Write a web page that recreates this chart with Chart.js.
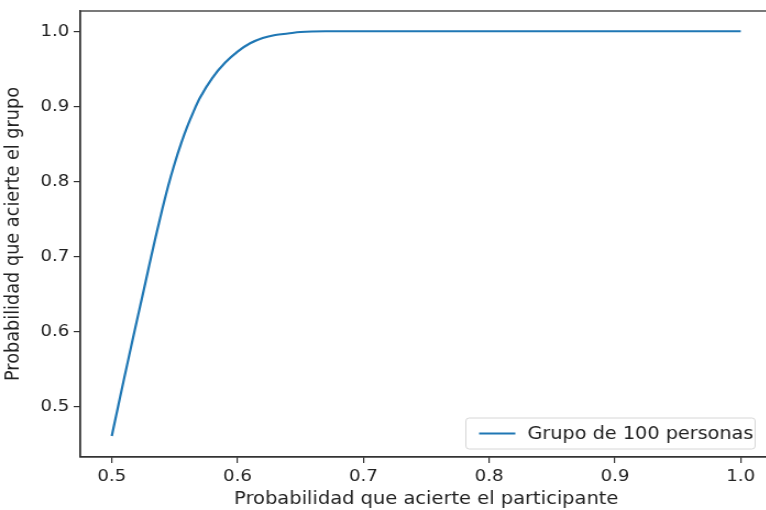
<!DOCTYPE html>
<html>
<head>
<meta charset="utf-8">
<script src="https://cdn.jsdelivr.net/npm/chart.js@4/dist/chart.umd.min.js"></script>
<style>
  html, body { margin: 0; padding: 0; background: #fff; overflow: hidden; }
  #wrap { width: 766px; height: 510px; overflow: hidden; }
  /* the reference is stretched a little horizontally */
  #myChart { transform: scaleX(1.1); transform-origin: 0 0; }
</style>
</head>
<body>
<div id="wrap"><canvas id="myChart" width="718" height="510"></canvas></div>
<script>
// probability that each participant is right
var pParticipant = [0.50, 0.505, 0.51, 0.515, 0.52, 0.525, 0.53, 0.535, 0.54, 0.545,
	0.55, 0.555, 0.56, 0.565, 0.57, 0.58, 0.59, 0.60, 0.61, 0.62, 0.63, 0.64, 0.65, 0.67,
	0.70, 0.75, 0.80, 0.85, 0.90, 0.95, 1.00];
// probability that the group (100 people) is right
var pGroup = [0.461, 0.500, 0.539, 0.577, 0.615, 0.652, 0.690, 0.727, 0.762, 0.795,
	0.824, 0.850, 0.873, 0.893, 0.911, 0.938, 0.958, 0.973, 0.984, 0.991, 0.995, 0.997, 0.999, 1.0,
	1.0, 1.0, 1.0, 1.0, 1.0, 1.0, 1.0];
var xTicks = [0.5, 0.6, 0.7, 0.8, 0.9, 1.0];
var yTicks = [0.5, 0.6, 0.7, 0.8, 0.9, 1.0];
var seriesLabel = 'Grupo de 100 personas';

var FONT = "'DejaVu Sans', sans-serif";
var TXT = '#222';

var boxPlugin = {
	id: 'box',
	afterDraw: function(chart){
		var a = chart.chartArea, ctx = chart.ctx;
		ctx.save();
		ctx.strokeStyle = '#333';
		ctx.lineWidth = 1.3;
		ctx.strokeRect(a.left, a.top, a.right - a.left, a.bottom - a.top);
		// legend box, lower right
		var w = 263, h = 31;
		var x = a.right - 15.5 - w, y = a.bottom - 8 - h;
		ctx.beginPath();
		if (ctx.roundRect) ctx.roundRect(x, y, w, h, 3); else ctx.rect(x, y, w, h);
		ctx.fillStyle = 'rgba(255,255,255,0.8)';
		ctx.fill();
		ctx.strokeStyle = '#d6d6d6';
		ctx.lineWidth = 1;
		ctx.stroke();
		var ds = chart.data.datasets[0];
		ctx.strokeStyle = ds.borderColor;
		ctx.lineWidth = 2.2;
		ctx.beginPath();
		ctx.moveTo(x + 12, y + h / 2);
		ctx.lineTo(x + 45, y + h / 2);
		ctx.stroke();
		ctx.fillStyle = TXT;
		ctx.font = '17.5px ' + FONT;
		ctx.textBaseline = 'middle';
		ctx.fillText(ds.label, x + 56, y + h / 2 + 1);
		ctx.restore();
	}
};

var ctx = document.getElementById('myChart');
var myChart = new Chart(ctx, {
	type: 'line',
	data: {
		labels: pParticipant,
		datasets: [{
			label: seriesLabel,
			data: pParticipant.map(function(p, i){ return {x: p, y: pGroup[i]}; }),
			borderColor: '#1f77b4',
			borderWidth: 2.2,
			pointRadius: 0,
			fill: false,
			cubicInterpolationMode: 'monotone'
		}]
	},
	options: {
		responsive: false,
		animation: false,
		layout: { padding: { left: 0, right: 16, top: 11, bottom: 0 } },
		plugins: { legend: { display: false }, tooltip: { enabled: false } },
		scales: {
			x: {
				type: 'linear',
				min: 0.475,
				max: 1.025,
				afterBuildTicks: function(s){ s.ticks = xTicks.map(function(v){ return {value: v}; }); },
				afterFit: function(s){ s.height = 53; s.paddingLeft = 0; s.paddingRight = 0; },
				grid: { drawOnChartArea: false, drawTicks: true, tickLength: 6, color: '#333', lineWidth: 1.2 },
				border: { display: true, color: '#333', width: 1.3 },
				ticks: {
					color: TXT, padding: 4, maxRotation: 0,
					font: { family: FONT, size: 16.5 },
					callback: function(v){ return Number(v).toFixed(1); }
				},
				title: {
					display: true, text: 'Probabilidad que acierte el participante',
					color: TXT, font: { family: FONT, size: 17.7 },
					padding: { top: 0, bottom: 0 }
				}
			},
			y: {
				min: 0.433,
				max: 1.027,
				afterBuildTicks: function(s){ s.ticks = yTicks.map(function(v){ return {value: v}; }); },
				afterFit: function(s){ s.width = 73; s.paddingTop = 0; s.paddingBottom = 0; },
				grid: { drawOnChartArea: false, drawTicks: true, tickLength: 6, color: '#333', lineWidth: 1.2 },
				border: { display: true, color: '#333', width: 1.3 },
				ticks: {
					color: TXT, padding: 4,
					font: { family: FONT, size: 16.5 },
					callback: function(v){ return Number(v).toFixed(1); }
				},
				title: {
					display: true, text: 'Probabilidad que acierte el grupo',
					color: TXT, font: { family: FONT, size: 17.7 },
					padding: { top: 2, bottom: 0 }
				}
			}
		}
	},
	plugins: [boxPlugin]
});
</script>
</body>
</html>
